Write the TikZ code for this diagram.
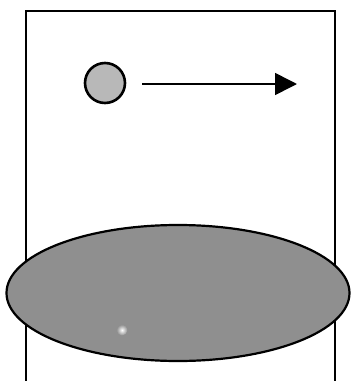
\documentclass[tikz,border=0pt]{standalone}
\usepackage{xcolor}
\usetikzlibrary{arrows.meta,shapes.geometric}
\definecolor{ballgray}{gray}{0.72}
\definecolor{discgray}{gray}{0.56}
\tikzset{
  ball/.style={circle,draw,line width=2.6pt,fill=ballgray,minimum size=40pt,inner sep=0pt},
  disc/.style={ellipse,draw,line width=2.2pt,fill=discgray,minimum width=343pt,minimum height=136pt,inner sep=0pt}
}
\begin{document}
\begin{tikzpicture}[x=1pt,y=-1pt]
\useasboundingbox (0,0) rectangle (352,381);
\draw[line width=1.6pt] (26,384) -- (26,11) -- (335,11) -- (335,384);
\node[ball] (ball) at (105,83) {};
\coordinate (start) at (142,84);
\coordinate (stop) at (297,84);
\draw[line width=1.6pt,-{Triangle[length=22pt,width=22pt]}] (start) -- (stop);
\node[disc] (disc) at (178,293) {};
\shade[inner color=white,outer color=discgray] (122,330) circle (5.5);
\end{tikzpicture}
\end{document}
